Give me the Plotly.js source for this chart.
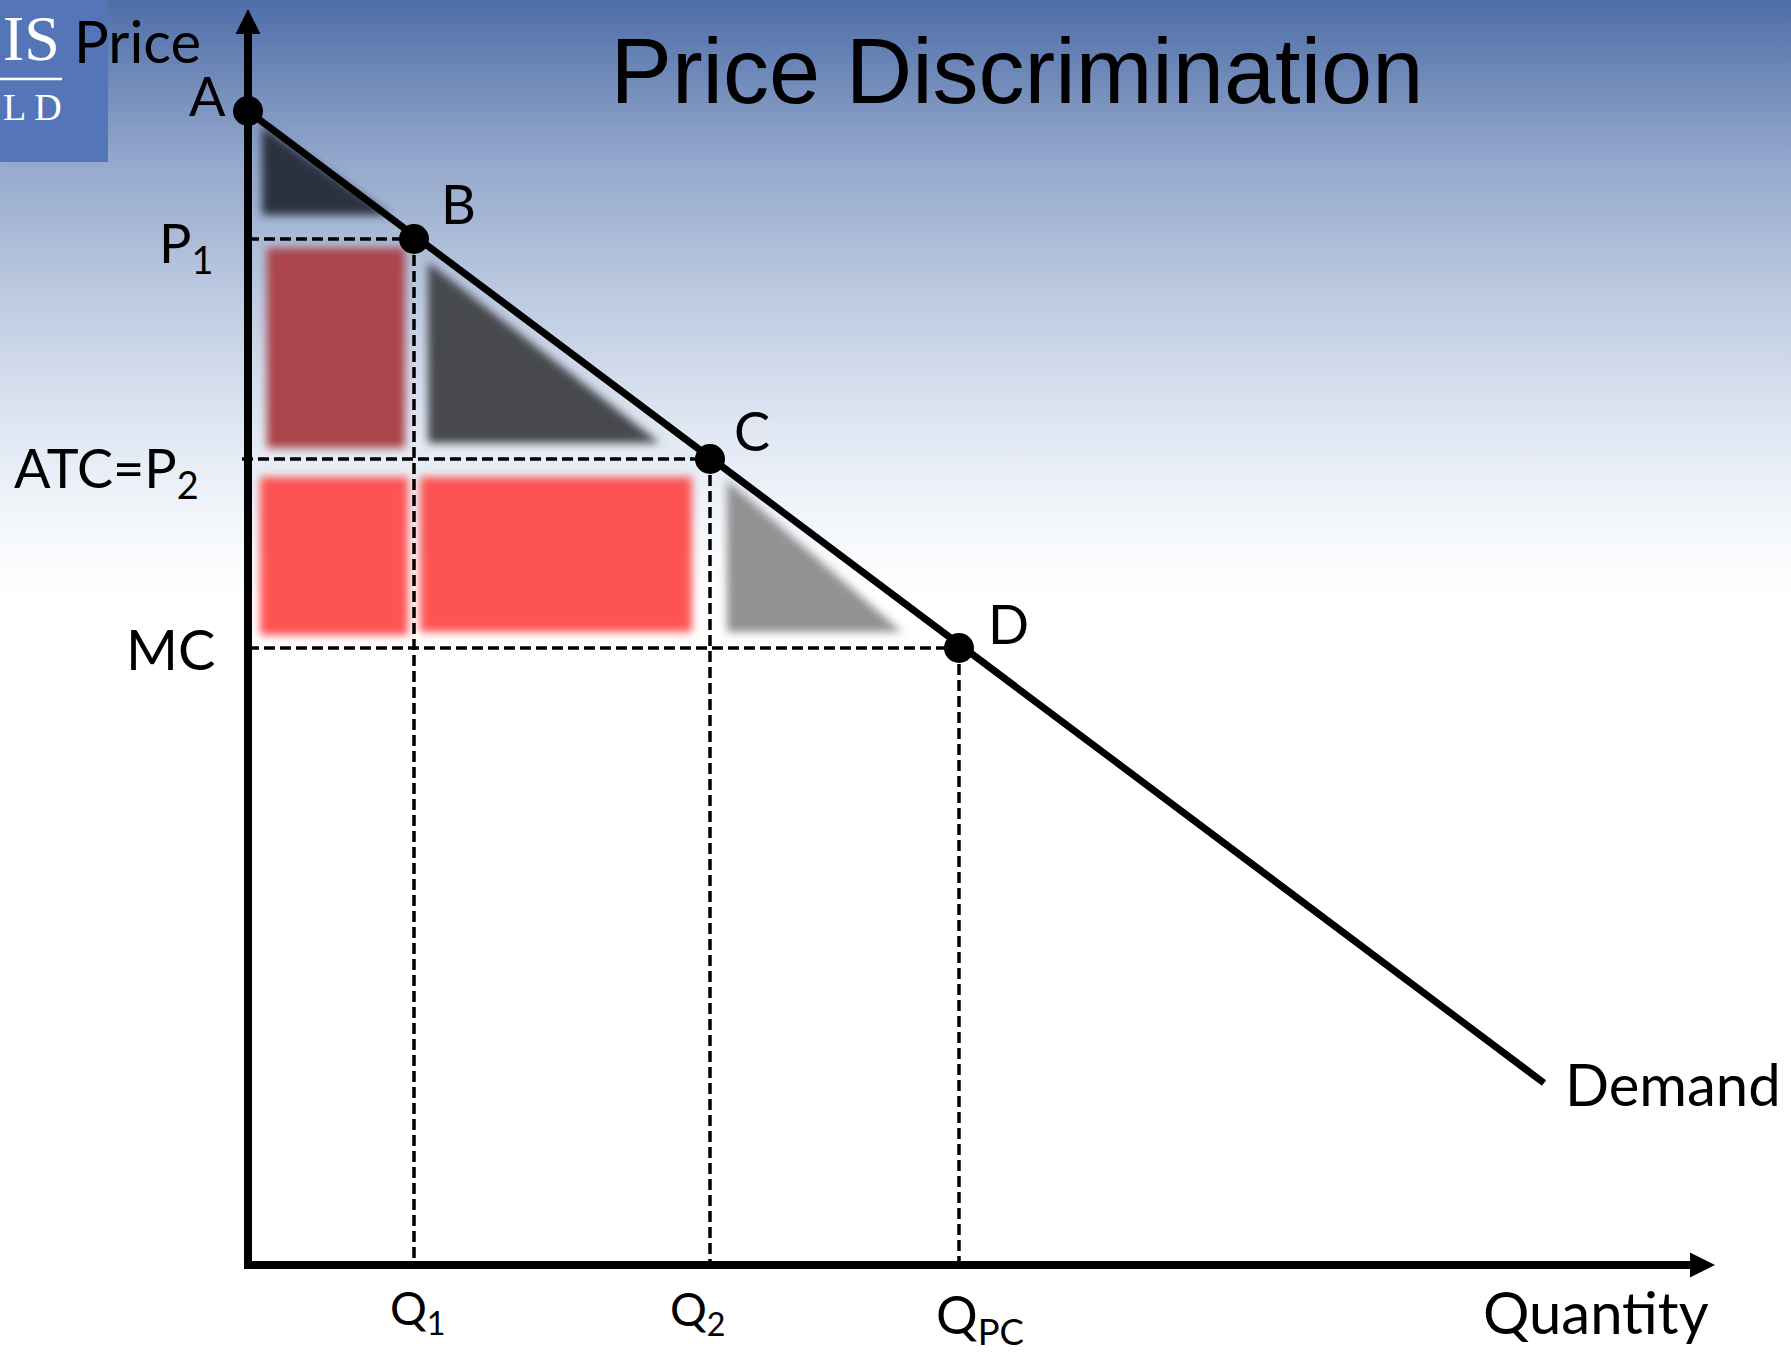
<!DOCTYPE html>
<html>
<head>
<meta charset="utf-8">
<script src="https://cdn.plot.ly/plotly-3.0.1.min.js"></script>
<style>
  html, body { margin: 0; padding: 0; }
  #chart {
    width: 1791px; height: 1353px;
    background: linear-gradient(to bottom,
      rgb(78,110,168) 0px,
      rgb(150,170,205) 167px,
      rgb(190,203,225) 300px,
      rgb(225,232,243) 433px,
      rgb(245,248,252) 533px,
      rgb(255,255,255) 600px,
      rgb(255,255,255) 1353px);
  }
</style>
</head>
<body>
<div id="chart"></div>
<script>
// ---------- data ----------
const demandQ = [0, 12.96];
const demandP = [11.54, 1.82];

const pointNames = ['A', 'B', 'C', 'D'];
const pointQ = [0, 1.66, 4.62, 7.11];
const pointP = [11.54, 10.26, 8.06, 6.17];

const priceLabels = ['P<sub>1</sub>', 'ATC=P<sub>2</sub>', 'MC'];
const priceLevels = [10.26, 8.06, 6.17];

const qtyLabels = ['Q<sub>1</sub>', 'Q<sub>2</sub>', 'Q<sub>PC</sub>'];
const qtyLevels = [1.66, 4.62, 7.11];

const axisTipQ = 14.67;
const axisTipP = 12.56;

// shaded areas (vertices)
const navyQ = [0.14, 0.14, 1.42];
const navyP = [11.39, 10.50, 10.50];
const darkRedQ = [0.19, 1.57, 1.57, 0.19];
const darkRedP = [10.17, 10.17, 8.17, 8.17];
const darkGrayQ = [1.80, 1.80, 4.12];
const darkGrayP = [10.03, 8.22, 8.22];
const redLeftQ = [0.12, 1.60, 1.60, 0.12];
const redLeftP = [7.88, 7.88, 6.30, 6.30];
const redRightQ = [1.72, 4.44, 4.44, 1.72];
const redRightP = [7.88, 7.88, 6.33, 6.33];
const lightGrayQ = [4.79, 4.79, 6.54];
const lightGrayP = [7.85, 6.33, 6.33];

// ---------- traces ----------
const traces = [];
function region(q, p, color) {
  traces.push({x: q, y: p, mode: 'lines', fill: 'toself', fillcolor: color,
    line: {width: 0, color: color}, hoverinfo: 'skip', showlegend: false});
}
region(navyQ, navyP, 'rgb(44,49,64)');
region(darkRedQ, darkRedP, 'rgb(170,68,76)');
region(darkGrayQ, darkGrayP, 'rgb(70,72,78)');
region(redLeftQ, redLeftP, 'rgb(253,82,82)');
region(redRightQ, redRightP, 'rgb(253,82,82)');
region(lightGrayQ, lightGrayP, 'rgb(146,146,146)');

const dashStyle = {color: 'black', width: 3.5, dash: '11px,5px'};
priceLevels.forEach((p, i) => {
  const startQ = i === 1 ? -0.06 : 0;
  traces.push({x: [startQ, qtyLevels[i]], y: [p, p], mode: 'lines', line: dashStyle,
    hoverinfo: 'skip', showlegend: false});
  traces.push({x: [qtyLevels[i], qtyLevels[i]], y: [p, 0], mode: 'lines', line: dashStyle,
    hoverinfo: 'skip', showlegend: false});
});

// demand curve
traces.push({x: demandQ, y: demandP, mode: 'lines', line: {color: 'black', width: 7},
  hoverinfo: 'skip', showlegend: false});

// axes
traces.push({x: [0, 0], y: [-0.04, axisTipP - 0.12], mode: 'lines',
  line: {color: 'black', width: 8}, hoverinfo: 'skip', showlegend: false});
traces.push({x: [-0.04, axisTipQ - 0.12], y: [0, 0], mode: 'lines',
  line: {color: 'black', width: 8}, hoverinfo: 'skip', showlegend: false});
traces.push({x: [0], y: [axisTipP], mode: 'markers',
  marker: {symbol: 'arrow-up', size: 25, color: 'black', line: {width: 0}},
  hoverinfo: 'skip', showlegend: false});
traces.push({x: [axisTipQ], y: [0], mode: 'markers',
  marker: {symbol: 'arrow-right', size: 25, color: 'black', line: {width: 0}},
  hoverinfo: 'skip', showlegend: false});

// points
traces.push({x: pointQ, y: pointP, mode: 'markers',
  marker: {size: 30, color: 'black', line: {width: 0}},
  hoverinfo: 'skip', showlegend: false});

// ---------- annotations ----------
const lblFont = {family: 'Lato, "Open Sans", sans-serif', color: 'black'};
const ann = [];
function f(size) { return Object.assign({}, lblFont, {size: size}); }

const ptShift = [[-20, 16, 'right'], [25, 36, 'left'], [22, 29, 'left'], [27, 25, 'left']];
pointNames.forEach((n, i) => {
  ann.push({x: pointQ[i], y: pointP[i], xref: 'x', yref: 'y', text: n, showarrow: false,
    xanchor: ptShift[i][2], yanchor: 'middle', xshift: ptShift[i][0], yshift: ptShift[i][1],
    font: f(54)});
});
const priceShift = [[-33, -7], [-47, -12], [-31, 0]];
priceLabels.forEach((t, i) => {
  ann.push({x: 0, y: priceLevels[i], xref: 'x', yref: 'y', text: t, showarrow: false,
    xanchor: 'right', yanchor: 'middle', xshift: priceShift[i][0], yshift: priceShift[i][1],
    font: f(i === 2 ? 56 : 54)});
});
const qtyShift = [4, -12, 21];
const qtyYShift = [-46, -47, -53];
qtyLabels.forEach((t, i) => {
  ann.push({x: qtyLevels[i], y: 0, xref: 'x', yref: 'y', text: t, showarrow: false,
    xanchor: 'center', yanchor: 'middle', xshift: qtyShift[i], yshift: qtyYShift[i],
    font: f(i === 2 ? 52 : 46)});
});
ann.push({x: 0, y: 12.25, xref: 'x', yref: 'y', text: 'Price', showarrow: false,
  xanchor: 'right', yanchor: 'middle', xshift: -45, font: f(58)});
ann.push({x: axisTipQ, y: 0, xref: 'x', yref: 'y', text: 'Quantity', showarrow: false,
  xanchor: 'right', yanchor: 'middle', xshift: -4, yshift: -46, font: f(58)});
ann.push({x: demandQ[1], y: demandP[1], xref: 'x', yref: 'y', text: 'Demand', showarrow: false,
  xanchor: 'left', yanchor: 'middle', xshift: 19, yshift: 0, font: f(58)});

// logo text
ann.push({x: -0.1288, y: 1.0061, xref: 'paper', yref: 'paper', text: 'IS', showarrow: false,
  xanchor: 'left', yanchor: 'top', yshift: -1,
  font: {family: '"Liberation Serif", "DejaVu Serif", serif', size: 64, color: 'white'}});
ann.push({x: -0.1288, y: 0.9243, xref: 'paper', yref: 'paper', text: 'L D', showarrow: false,
  xanchor: 'left', yanchor: 'middle',
  font: {family: '"Liberation Serif", "DejaVu Serif", serif', size: 38, color: 'white'}});

const layout = {
  width: 1791, height: 1353,
  margin: {l: 198, r: 63, t: 8, b: 38, pad: 0},
  paper_bgcolor: 'rgba(0,0,0,0)',
  plot_bgcolor: 'rgba(0,0,0,0)',
  showlegend: false,
  title: {text: 'Price Discrimination', x: 1017 / 1791, xref: 'container', y: 0.948, yref: 'container',
    xanchor: 'center', yanchor: 'middle',
    font: {family: '"Liberation Sans", Arial, sans-serif', size: 92, color: 'black'}},
  xaxis: {range: [-0.5, 14.8], visible: false, fixedrange: true},
  yaxis: {range: [-0.5, 12.57], visible: false, fixedrange: true},
  annotations: ann,
  shapes: [
    {type: 'rect', xref: 'paper', yref: 'paper', x0: -0.1294, x1: -0.0588, y0: 0.8822, y1: 1.0061,
      fillcolor: 'rgb(84,118,184)', line: {width: 0}, layer: 'below'},
    {type: 'line', xref: 'paper', yref: 'paper', x0: -0.1294, x1: -0.0889, y0: 0.9457, y1: 0.9457,
      line: {color: 'white', width: 2.5}, layer: 'below'}
  ]
};

Plotly.newPlot('chart', traces, layout, {staticPlot: true, displayModeBar: false}).then(gd => {
  const svgNS = 'http://www.w3.org/2000/svg';
  const svg = gd.querySelector('svg.main-svg');
  let defs = svg.querySelector('defs');
  if (!defs) { defs = document.createElementNS(svgNS, 'defs'); svg.insertBefore(defs, svg.firstChild); }
  const filt = document.createElementNS(svgNS, 'filter');
  filt.setAttribute('id', 'softblur');
  filt.setAttribute('x', '-30%'); filt.setAttribute('y', '-30%');
  filt.setAttribute('width', '160%'); filt.setAttribute('height', '160%');
  const blur = document.createElementNS(svgNS, 'feGaussianBlur');
  blur.setAttribute('stdDeviation', '4.5');
  filt.appendChild(blur);
  defs.appendChild(filt);
  gd.querySelectorAll('.scatterlayer path.js-fill').forEach(p => p.setAttribute('filter', 'url(#softblur)'));
});
</script>
</body>
</html>
